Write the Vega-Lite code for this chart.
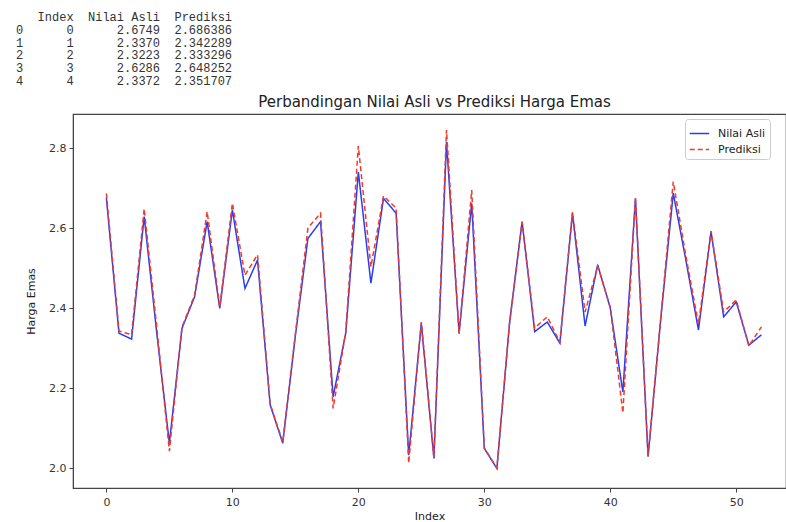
{
  "$schema": "https://vega.github.io/schema/vega-lite/v6.json",
  "width": 713,
  "height": 374,
  "autosize": {"type": "none"},
  "padding": {"left": 73, "top": 114, "right": 0, "bottom": 34},
  "background": "white",
  "title": {
    "text": ["\u200b\u00a0\u00a0\u00a0Index\u00a0\u00a0Nilai\u00a0Asli\u00a0\u00a0Prediksi", "0\u00a0\u00a0\u00a0\u00a0\u00a0\u00a00\u00a0\u00a0\u00a0\u00a0\u00a0\u00a02.6749\u00a0\u00a02.686386", "1\u00a0\u00a0\u00a0\u00a0\u00a0\u00a01\u00a0\u00a0\u00a0\u00a0\u00a0\u00a02.3370\u00a0\u00a02.342289", "2\u00a0\u00a0\u00a0\u00a0\u00a0\u00a02\u00a0\u00a0\u00a0\u00a0\u00a0\u00a02.3223\u00a0\u00a02.333296", "3\u00a0\u00a0\u00a0\u00a0\u00a0\u00a03\u00a0\u00a0\u00a0\u00a0\u00a0\u00a02.6286\u00a0\u00a02.648252", "4\u00a0\u00a0\u00a0\u00a0\u00a0\u00a04\u00a0\u00a0\u00a0\u00a0\u00a0\u00a02.3372\u00a0\u00a02.351707"],
    "anchor": "start",
    "frame": "group",
    "orient": "top",
    "font": "Liberation Mono",
    "fontSize": 12,
    "fontWeight": "normal",
    "color": "#333333",
    "lineHeight": 12.8,
    "baseline": "top",
    "dx": -57,
    "dy": -6,
    "offset": 0
  },
  "config": {
    "view": {"stroke": "#444444", "strokeWidth": 1.2},
    "axis": {
      "labelFont": "DejaVu Sans",
      "titleFont": "DejaVu Sans",
      "labelFontSize": 11,
      "titleFontSize": 11,
      "labelColor": "#333333",
      "titleColor": "#222222",
      "titleFontWeight": "normal",
      "domainColor": "#444444",
      "tickColor": "#444444",
      "tickSize": 4,
      "grid": false
    }
  },
  "data": {
    "values": [
      {"Index": 0, "Nilai Asli": 2.6749, "Prediksi": 2.6864},
      {"Index": 1, "Nilai Asli": 2.337, "Prediksi": 2.3423},
      {"Index": 2, "Nilai Asli": 2.3223, "Prediksi": 2.3333},
      {"Index": 3, "Nilai Asli": 2.6286, "Prediksi": 2.6483},
      {"Index": 4, "Nilai Asli": 2.3372, "Prediksi": 2.3517},
      {"Index": 5, "Nilai Asli": 2.062, "Prediksi": 2.042},
      {"Index": 6, "Nilai Asli": 2.349, "Prediksi": 2.352},
      {"Index": 7, "Nilai Asli": 2.428, "Prediksi": 2.432},
      {"Index": 8, "Nilai Asli": 2.616, "Prediksi": 2.641},
      {"Index": 9, "Nilai Asli": 2.399, "Prediksi": 2.402},
      {"Index": 10, "Nilai Asli": 2.645, "Prediksi": 2.662},
      {"Index": 11, "Nilai Asli": 2.449, "Prediksi": 2.482},
      {"Index": 12, "Nilai Asli": 2.52, "Prediksi": 2.533},
      {"Index": 13, "Nilai Asli": 2.158, "Prediksi": 2.16},
      {"Index": 14, "Nilai Asli": 2.062, "Prediksi": 2.065},
      {"Index": 15, "Nilai Asli": 2.33, "Prediksi": 2.335},
      {"Index": 16, "Nilai Asli": 2.574, "Prediksi": 2.6},
      {"Index": 17, "Nilai Asli": 2.616, "Prediksi": 2.637},
      {"Index": 18, "Nilai Asli": 2.178, "Prediksi": 2.149},
      {"Index": 19, "Nilai Asli": 2.337, "Prediksi": 2.34},
      {"Index": 20, "Nilai Asli": 2.74, "Prediksi": 2.805},
      {"Index": 21, "Nilai Asli": 2.462, "Prediksi": 2.503},
      {"Index": 22, "Nilai Asli": 2.674, "Prediksi": 2.68},
      {"Index": 23, "Nilai Asli": 2.637, "Prediksi": 2.65},
      {"Index": 24, "Nilai Asli": 2.032, "Prediksi": 2.012},
      {"Index": 25, "Nilai Asli": 2.362, "Prediksi": 2.365},
      {"Index": 26, "Nilai Asli": 2.024, "Prediksi": 2.026},
      {"Index": 27, "Nilai Asli": 2.815, "Prediksi": 2.845},
      {"Index": 28, "Nilai Asli": 2.337, "Prediksi": 2.335},
      {"Index": 29, "Nilai Asli": 2.662, "Prediksi": 2.695},
      {"Index": 30, "Nilai Asli": 2.049, "Prediksi": 2.05},
      {"Index": 31, "Nilai Asli": 1.999, "Prediksi": 2.0},
      {"Index": 32, "Nilai Asli": 2.36, "Prediksi": 2.362},
      {"Index": 33, "Nilai Asli": 2.616, "Prediksi": 2.615},
      {"Index": 34, "Nilai Asli": 2.341, "Prediksi": 2.35},
      {"Index": 35, "Nilai Asli": 2.365, "Prediksi": 2.378},
      {"Index": 36, "Nilai Asli": 2.312, "Prediksi": 2.315},
      {"Index": 37, "Nilai Asli": 2.637, "Prediksi": 2.64},
      {"Index": 38, "Nilai Asli": 2.355, "Prediksi": 2.39},
      {"Index": 39, "Nilai Asli": 2.508, "Prediksi": 2.505},
      {"Index": 40, "Nilai Asli": 2.4, "Prediksi": 2.402},
      {"Index": 41, "Nilai Asli": 2.19, "Prediksi": 2.138},
      {"Index": 42, "Nilai Asli": 2.674, "Prediksi": 2.676},
      {"Index": 43, "Nilai Asli": 2.028, "Prediksi": 2.03},
      {"Index": 44, "Nilai Asli": 2.37, "Prediksi": 2.372},
      {"Index": 45, "Nilai Asli": 2.687, "Prediksi": 2.716},
      {"Index": 46, "Nilai Asli": 2.52, "Prediksi": 2.53},
      {"Index": 47, "Nilai Asli": 2.345, "Prediksi": 2.36},
      {"Index": 48, "Nilai Asli": 2.591, "Prediksi": 2.592},
      {"Index": 49, "Nilai Asli": 2.378, "Prediksi": 2.39},
      {"Index": 50, "Nilai Asli": 2.415, "Prediksi": 2.42},
      {"Index": 51, "Nilai Asli": 2.307, "Prediksi": 2.305},
      {"Index": 52, "Nilai Asli": 2.333, "Prediksi": 2.353}
    ]
  },
  "transform": [{"fold": ["Nilai Asli", "Prediksi"], "as": ["series", "value"]}],
  "encoding": {
    "y": {
      "field": "value",
      "type": "quantitative",
      "scale": {"domain": [1.95, 2.885], "nice": false, "zero": false},
      "axis": {"values": [2.0, 2.2, 2.4, 2.6, 2.8], "format": ".1f", "title": "Harga Emas", "labelPadding": 3, "titlePadding": 12}
    }
  },
  "resolve": {"axis": {"x": "independent"}},
  "layer": [
    {
      "mark": {"type": "line", "strokeWidth": 1.5, "clip": true},
      "encoding": {
        "x": {
          "field": "Index",
          "type": "quantitative",
          "scale": {"domain": [-2.65, 53.95], "nice": false, "zero": false},
          "axis": {"values": [0, 10, 20, 30, 40, 50], "title": "Index", "labelPadding": 4, "titlePadding": 3}
        },
        "color": {
          "field": "series",
          "type": "nominal",
          "scale": {"domain": ["Nilai Asli", "Prediksi"], "range": ["#2a3cf2", "#f23a2a"]},
          "legend": {
            "title": null,
            "orient": "none",
            "legendX": 612,
            "legendY": 5,
            "fillColor": "white",
            "strokeColor": "#cccccc",
            "cornerRadius": 3,
            "padding": 4,
            "symbolType": "stroke",
            "symbolSize": 380,
            "symbolStrokeWidth": 1.5,
            "labelFont": "DejaVu Sans",
            "labelFontSize": 11,
            "labelColor": "#222222",
            "labelOffset": 8,
            "rowPadding": 0
          }
        },
        "strokeDash": {
          "field": "series",
          "type": "nominal",
          "scale": {"domain": ["Nilai Asli", "Prediksi"], "range": [[1, 0], [5, 3]]},
          "legend": {"title": null}
        }
      }
    },
    {
      "mark": {"type": "line", "opacity": 0},
      "encoding": {
        "x": {
          "field": "Index",
          "type": "quantitative",
          "axis": {"orient": "top", "title": "Perbandingan Nilai Asli vs Prediksi Harga Emas", "labels": false, "ticks": false, "domain": false, "titleFontSize": 15, "titlePadding": 5, "titleX": 361}
        },
        "detail": {"field": "series"}
      }
    }
  ]
}
